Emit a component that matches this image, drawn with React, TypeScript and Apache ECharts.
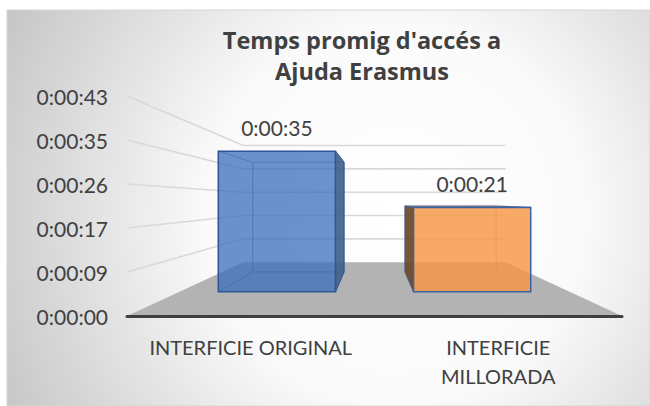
import React, { useEffect, useRef } from "react";
import * as echarts from "echarts";

// ---- data ----
const titleText = "Temps promig d'accés a\nAjuda Erasmus";
const categories = ["INTERFICIE ORIGINAL", "INTERFICIE\nMILLORADA"];
const secondsValues = [35, 21];
const axisStep = 8.64; // 0.0001 day in seconds
const axisMax = 43.2;
const gridTickValues = [8.64, 17.28, 25.92, 34.56, 43.2];

// ---- 3D projection parameters ----
const EYE_VALUE = 22.5; // value at eye level (vanishing point height)
const K_BACK = 0.53; // back wall depth scale
const K_BAR_FRONT = 0.789;
const K_BAR_BACK = 0.615;
const BAR_RATIO = 0.6;

const FONT = "Lato";
const TEXT_COLOR = "#404040";

const barStyles = [
  {
    front: "rgba(60,110,185,0.75)",
    side: "#41628b",
    stroke: "#2f5597",
    inner: "rgba(47,85,151,0.5)",
  },
  {
    front: "rgba(247,150,70,0.82)",
    side: "#6b4727",
    stroke: "#3a62a2",
    inner: "rgba(190,105,40,0.45)",
  },
];

const fmtTime = (v: number) => {
  const s = Math.round(v);
  const h = Math.floor(s / 3600);
  const m = Math.floor((s % 3600) / 60);
  const ss = s % 60;
  return `${h}:${String(m).padStart(2, "0")}:${String(ss).padStart(2, "0")}`;
};

export default function App() {
  const ref = useRef<HTMLDivElement>(null);

  useEffect(() => {
    if (!ref.current) return;
    const chart = echarts.init(ref.current, undefined, { renderer: "svg" });

    const proj = (api: any, cs: any) => {
      const vpx = cs.x + cs.width / 2;
      const vpy = api.coord([0, EYE_VALUE])[1];
      return (x: number, y: number, k: number) => [vpx + k * (x - vpx), vpy + k * (y - vpy)];
    };

    const option: any = {
      animation: false,
      graphic: [
        {
          type: "rect",
          z: -10,
          silent: true,
          shape: { x: 7, y: 10, width: 643, height: 396 },
          style: {
            fill: new echarts.graphic.RadialGradient(
              395,
              215,
              450,
              [
                { offset: 0, color: "#ffffff" },
                { offset: 0.42, color: "#fafafa" },
                { offset: 1, color: "#c3c3c3" },
              ],
              true
            ),
            stroke: "#d6d6d6",
            lineWidth: 1,
          },
        },
      ],
      title: {
        text: titleText,
        left: 362,
        top: 24,
        padding: 0,
        textAlign: "center",
        textStyle: {
          fontFamily: "Open Sans",
          fontWeight: "bold",
          fontSize: 23.5,
          color: TEXT_COLOR,
          lineHeight: 31,
        },
      },
      grid: { left: 127, right: 28, top: 96, bottom: 90, containLabel: false },
      xAxis: {
        type: "category",
        data: categories,
        z: 10,
        axisLine: { show: true, lineStyle: { color: "#3f3f3f", width: 3 } },
        axisTick: { show: false },
        axisLabel: {
          interval: 0,
          margin: 16,
          fontFamily: FONT,
          fontSize: 20,
          color: TEXT_COLOR,
          lineHeight: 29,
        },
        splitLine: { show: false },
      },
      yAxis: {
        type: "value",
        min: 0,
        max: axisMax,
        interval: axisStep,
        axisLine: { show: false },
        axisTick: { show: false },
        splitLine: { show: false },
        axisLabel: {
          margin: 19,
          fontFamily: FONT,
          fontSize: 21,
          color: TEXT_COLOR,
          formatter: (v: number) => fmtTime(v),
        },
      },
      series: [
        {
          type: "custom",
          z: 1,
          silent: true,
          data: [[0]],
          renderItem: (params: any, api: any) => {
            const cs = params.coordSys;
            const P = proj(api, cs);
            const xl = cs.x;
            const xr = cs.x + cs.width;
            const y0 = api.coord([0, 0])[1];
            const children: any[] = [];
            const fl = P(xl, y0, 1), fr = P(xr, y0, 1), br = P(xr, y0, K_BACK), bl = P(xl, y0, K_BACK);
            gridTickValues.forEach((v) => {
              const y = api.coord([0, v])[1];
              const a = P(xl, y, 1);
              const b = P(xl, y, K_BACK);
              const c = P(xr, y, K_BACK);
              children.push({
                type: "polyline",
                shape: { points: [a, b, c] },
                style: { stroke: "#d9d9d9", lineWidth: 1.6, fill: "none" },
              });
            });
            children.push({
              type: "polygon",
              shape: { points: [fl, fr, br, bl] },
              style: { fill: "#b3b3b3" },
            });
            return { type: "group", children };
          },
        },
        {
          type: "custom",
          z: 3,
          silent: true,
          data: categories.map((_, i) => [i, secondsValues[i]]),
          renderItem: (params: any, api: any) => {
            const cs = params.coordSys;
            const P = proj(api, cs);
            const i = api.value(0);
            const v = api.value(1);
            const st = barStyles[params.dataIndex % barStyles.length];
            const [cx, yTop] = api.coord([i, v]);
            const yBase = api.coord([i, 0])[1];
            const band = api.size([1, 0])[0];
            const half = (band * BAR_RATIO) / 2;
            const xl = cx - half;
            const xr = cx + half;
            const vpx = cs.x + cs.width / 2;
            const vpy = api.coord([0, EYE_VALUE])[1];
            const fTL = P(xl, yTop, K_BAR_FRONT), fTR = P(xr, yTop, K_BAR_FRONT);
            const fBL = P(xl, yBase, K_BAR_FRONT), fBR = P(xr, yBase, K_BAR_FRONT);
            const bTL = P(xl, yTop, K_BAR_BACK), bTR = P(xr, yTop, K_BAR_BACK);
            const bBL = P(xl, yBase, K_BAR_BACK), bBR = P(xr, yBase, K_BAR_BACK);
            const children: any[] = [];
            const edges = [
              [bTL, bTR], [bTR, bBR], [bBR, bBL], [bBL, bTL],
              [fTL, bTL], [fTR, bTR], [fBL, bBL], [fBR, bBR],
            ];
            edges.forEach(([a, b]) =>
              children.push({
                type: "line",
                shape: { x1: a[0], y1: a[1], x2: b[0], y2: b[1] },
                style: { stroke: st.inner, lineWidth: 1.2 },
              })
            );
            const side = cx < vpx ? [fTR, bTR, bBR, fBR] : [fTL, bTL, bBL, fBL];
            children.push({
              type: "polygon",
              shape: { points: side },
              style: { fill: st.side, stroke: st.stroke, lineWidth: 1, opacity: 0.92 },
            });
            if (fTL[1] > vpy) {
              children.push({
                type: "polygon",
                shape: { points: [fTL, fTR, bTR, bTL] },
                style: { fill: st.front, stroke: st.stroke, lineWidth: 1 },
              });
            }
            children.push({
              type: "polygon",
              shape: { points: [fTL, fTR, fBR, fBL] },
              style: { fill: st.front, stroke: st.stroke, lineWidth: 1.5 },
            });
            children.push({
              type: "text",
              style: {
                text: fmtTime(v),
                x: (fTL[0] + fTR[0]) / 2,
                y: fTL[1] - 23.5,
                align: "center",
                verticalAlign: "middle",
                fontFamily: FONT,
                fontSize: 21,
                fill: TEXT_COLOR,
              },
            });
            return { type: "group", children };
          },
        },
      ],
    };

    chart.setOption(option);
    return () => chart.dispose();
  }, []);

  return (
    <div
      ref={ref}
      style={{ position: "absolute", left: 0, top: 0, width: 650, height: 406 }}
    />
  );
}
